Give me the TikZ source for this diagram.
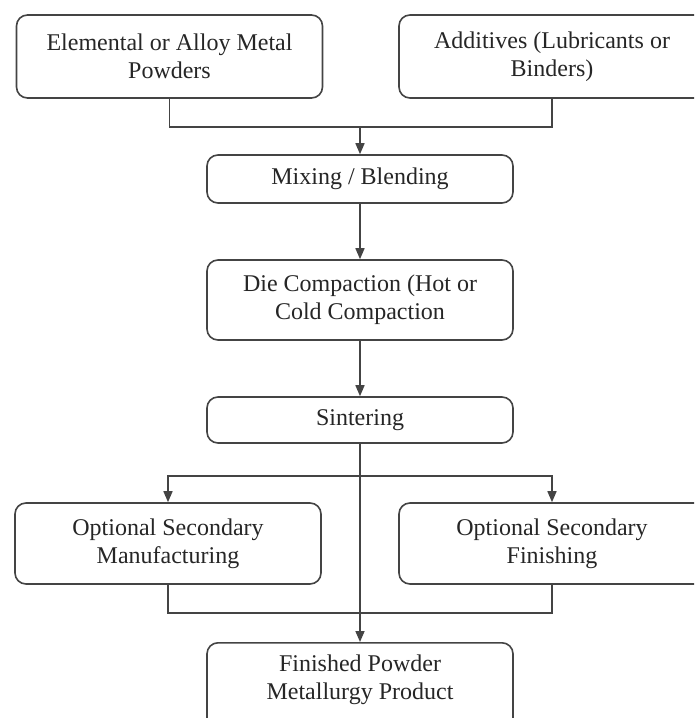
\documentclass[tikz,border=0pt]{standalone}
\usepackage{fontspec}
\setmainfont{Liberation Serif}
\usetikzlibrary{arrows.meta}
\definecolor{edge}{HTML}{444444}
\definecolor{ink}{HTML}{262626}
\begin{document}
\begin{tikzpicture}[x=1pt,y=-1pt,
  box/.style={draw=edge, line width=1.6pt, rounded corners=11pt, fill=white,
    inner sep=0pt, minimum width=306pt, align=center, text=ink,
    font=\fontsize{24}{28}\selectfont},
  conn/.style={draw=edge, line width=1.6pt},
  arr/.style={conn, -{Triangle[length=11pt,width=9pt]}}]
\useasboundingbox (0,0) rectangle (694,718);
\clip (0,0) rectangle (694,718);
\fill[white] (0,0) rectangle (694,718);

\node[box, minimum height=83pt] (powd) at (169.5,56.5) {Elemental or Alloy Metal\\Powders};
\node[box, minimum height=83pt] (addi) at (552,56.5) {Additives (Lubricants or\\Binders)};
\node[box, minimum height=48pt] (mix) at (360,179) {Mixing / Blending};
\node[box, minimum height=80pt] (die) at (360,300) {Die Compaction (Hot or\\Cold Compaction};
\node[box, minimum height=46pt] (sint) at (360,420) {Sintering};
\node[box, minimum height=81pt] (manu) at (168,543.5) {Optional Secondary\\Manufacturing};
\node[box, minimum height=81pt] (fini) at (552,543.5) {Optional Secondary\\Finishing};
\node[box, anchor=north, inner ysep=12pt, text depth=30pt] (prod) at (360,642) {Finished Powder\\Metallurgy Product};

\coordinate (j1) at (360,127);
\coordinate (j2) at (360,476);
\coordinate (j3) at (360,613);

\draw[conn] (powd.south) |- (j1) -| (addi.south);
\draw[arr] (j1) -- (mix.north);
\draw[arr] (mix.south) -- (die.north);
\draw[arr] (die.south) -- (sint.north);
\draw[arr] (sint.south) -- (prod.north);
\draw[arr] (j2) -| (manu.north);
\draw[arr] (j2) -| (fini.north);
\draw[conn] (manu.south) |- (j3) -| (fini.south);
\end{tikzpicture}
\end{document}
